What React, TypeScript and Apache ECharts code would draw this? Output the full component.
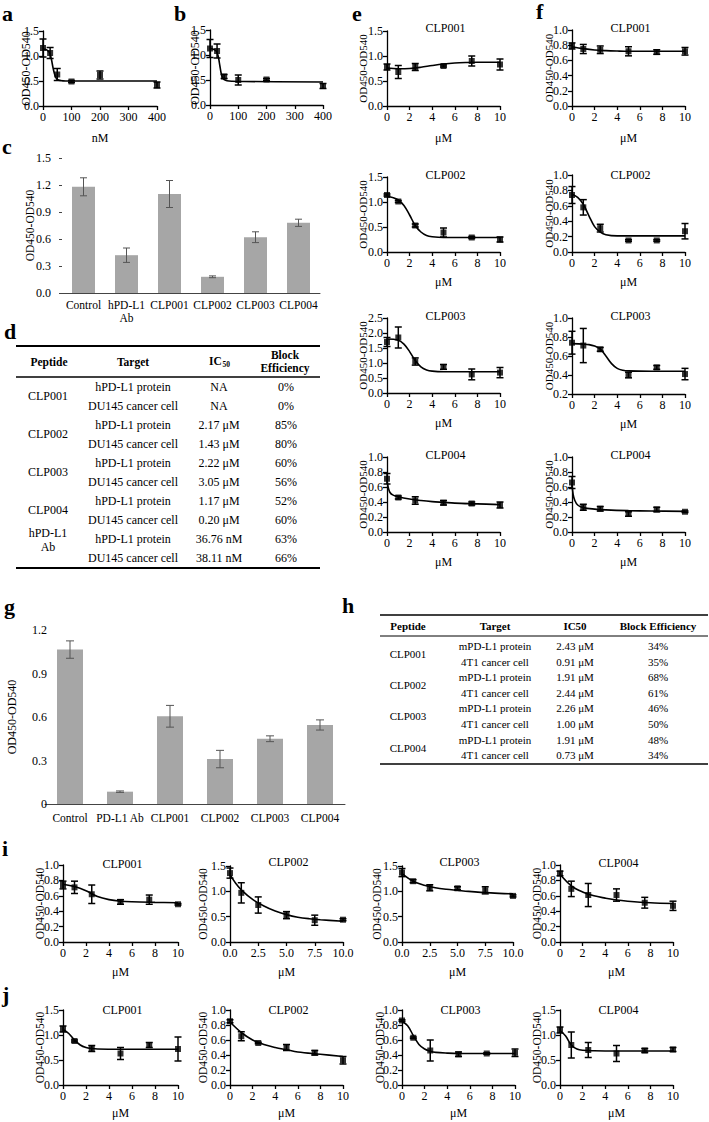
import React, { useEffect, useRef } from "react";
import * as echarts from "echarts";

const FONT = "Liberation Serif";

// ---------------- data ----------------
const doseNM = [0, 25, 50, 100, 200, 400];
const doseUM = [0, 1, 2.5, 5, 7.5, 10];

const aMean = [1.16, 1.06, 0.63, 0.49, 0.62, 0.42];
const aErr = [0.18, 0.11, 0.12, 0.02, 0.08, 0.06];
const aCurve = [[0, 1.14], [10, 1.13], [20, 1.09], [25, 1.04], [30, 0.92], [35, 0.77], [40, 0.65], [45, 0.57], [50, 0.53], [60, 0.51], [80, 0.5], [120, 0.5], [400, 0.5]];

const bMean = [1.13, 1.08, 0.57, 0.5, 0.51, 0.38];
const bErr = [0.18, 0.14, 0.04, 0.1, 0.02, 0.05];
const bCurve = [[0, 1.13], [10, 1.12], [20, 1.09], [25, 1.05], [30, 0.95], [35, 0.78], [40, 0.62], [45, 0.54], [50, 0.51], [60, 0.485], [80, 0.475], [120, 0.47], [400, 0.46]];

const e1Mean = [0.78, 0.68, 0.78, 0.8, 0.9, 0.83];
const e1Err = [0.06, 0.13, 0.07, 0.02, 0.1, 0.11];
const e1Curve = [[0, 0.76], [1, 0.745], [2, 0.75], [3, 0.775], [4, 0.81], [5, 0.84], [6, 0.86], [7, 0.87], [8, 0.875], [10, 0.875]];

const e2Mean = [1.14, 1.01, 0.53, 0.39, 0.29, 0.25];
const e2Err = [0.02, 0.02, 0.03, 0.09, 0.02, 0.05];
const e2Curve = [[0, 1.11], [0.5, 1.09], [1, 1.04], [1.5, 0.93], [2, 0.74], [2.5, 0.53], [3, 0.4], [3.5, 0.33], [4, 0.305], [5, 0.29], [7, 0.29], [10, 0.29]];

const e3Mean = [1.7, 1.85, 1.05, 0.87, 0.62, 0.68];
const e3Err = [0.15, 0.35, 0.12, 0.08, 0.18, 0.17];
const e3Curve = [[0, 1.8], [1, 1.76], [1.5, 1.63], [2, 1.38], [2.5, 1.08], [3, 0.87], [3.5, 0.77], [4, 0.73], [5, 0.71], [7, 0.71], [10, 0.71]];

const e4Mean = [0.71, 0.46, 0.42, 0.39, 0.38, 0.36];
const e4Err = [0.07, 0.02, 0.05, 0.03, 0.02, 0.04];
const e4Curve = [[0, 0.69], [0.1, 0.6], [0.25, 0.53], [0.5, 0.495], [1, 0.47], [2, 0.44], [3, 0.42], [4, 0.405], [5, 0.395], [6, 0.385], [8, 0.375], [10, 0.365]];

const f1Mean = [0.79, 0.75, 0.74, 0.72, 0.71, 0.72];
const f1Err = [0.04, 0.06, 0.05, 0.06, 0.03, 0.05];
const f1Curve = [[0, 0.78], [1, 0.755], [2, 0.737], [3, 0.728], [4, 0.723], [5, 0.72], [7, 0.72], [10, 0.72]];

const f2Mean = [0.74, 0.58, 0.31, 0.15, 0.15, 0.27];
const f2Err = [0.11, 0.1, 0.05, 0.01, 0.01, 0.1];
const f2Curve = [[0, 0.75], [0.5, 0.71], [1, 0.62], [1.5, 0.47], [2, 0.33], [2.5, 0.26], [3, 0.225], [4, 0.21], [6, 0.21], [10, 0.21]];

const f3Mean = [0.74, 0.71, 0.67, 0.4, 0.48, 0.41];
const f3Err = [0.12, 0.18, 0.02, 0.03, 0.02, 0.06];
const f3Curve = [[0, 0.73], [1, 0.725], [1.5, 0.72], [2, 0.705], [2.5, 0.675], [3, 0.6], [3.5, 0.52], [4, 0.47], [4.5, 0.45], [5, 0.443], [7, 0.44], [10, 0.44]];

const f4Mean = [0.66, 0.33, 0.31, 0.24, 0.3, 0.27];
const f4Err = [0.08, 0.04, 0.03, 0.03, 0.03, 0.01];
const f4Curve = [[0, 0.64], [0.1, 0.5], [0.25, 0.42], [0.5, 0.36], [1, 0.325], [2, 0.305], [3, 0.295], [5, 0.285], [7, 0.28], [10, 0.275]];

const i1Mean = [0.74, 0.71, 0.62, 0.52, 0.55, 0.49];
const i1Err = [0.05, 0.08, 0.12, 0.03, 0.06, 0.01];
const i1Curve = [[0, 0.75], [1, 0.72], [2, 0.665], [3, 0.59], [4, 0.55], [5, 0.53], [6, 0.522], [8, 0.515], [10, 0.51]];

const i2Mean = [1.36, 0.97, 0.73, 0.53, 0.43, 0.44];
const i2Err = [0.1, 0.2, 0.16, 0.07, 0.1, 0.02];
const i2Curve = [[0, 1.33], [0.5, 1.16], [1, 1.03], [2, 0.84], [3, 0.71], [4, 0.61], [5, 0.54], [6, 0.49], [7, 0.46], [8, 0.44], [10, 0.41]];

const i3Mean = [1.37, 1.2, 1.07, 1.06, 1.02, 0.91];
const i3Err = [0.08, 0.03, 0.06, 0.03, 0.07, 0.02];
const i3Curve = [[0, 1.35], [1, 1.2], [2, 1.12], [3, 1.07], [4, 1.04], [5, 1.02], [6, 1.0], [8, 0.97], [10, 0.95]];

const i4Mean = [0.89, 0.69, 0.61, 0.61, 0.51, 0.47];
const i4Err = [0.03, 0.1, 0.15, 0.08, 0.07, 0.06];
const i4Curve = [[0, 0.88], [1, 0.73], [2, 0.65], [3, 0.6], [4, 0.57], [5, 0.545], [6, 0.53], [8, 0.51], [10, 0.5]];

const j1Mean = [1.12, 0.88, 0.73, 0.63, 0.8, 0.72];
const j1Err = [0.06, 0.02, 0.06, 0.12, 0.05, 0.24];
const j1Curve = [[0, 1.11], [0.5, 1.03], [1, 0.9], [1.5, 0.8], [2, 0.75], [2.5, 0.73], [3, 0.72], [5, 0.715], [10, 0.715]];

const j2Mean = [0.85, 0.65, 0.56, 0.5, 0.43, 0.33];
const j2Err = [0.02, 0.06, 0.01, 0.04, 0.03, 0.05];
const j2Curve = [[0, 0.84], [1, 0.7], [2, 0.6], [3, 0.54], [4, 0.5], [5, 0.47], [6, 0.44], [8, 0.41], [10, 0.38]];

const j3Mean = [0.86, 0.63, 0.46, 0.41, 0.42, 0.43];
const j3Err = [0.01, 0.01, 0.14, 0.03, 0.01, 0.05];
const j3Curve = [[0, 0.85], [0.5, 0.79], [1, 0.66], [1.5, 0.54], [2, 0.48], [2.5, 0.45], [3, 0.435], [4, 0.425], [5, 0.42], [10, 0.42]];

const j4Mean = [1.1, 0.8, 0.7, 0.63, 0.69, 0.71];
const j4Err = [0.06, 0.26, 0.15, 0.16, 0.04, 0.04];
const j4Curve = [[0, 1.09], [0.5, 0.98], [1, 0.8], [1.5, 0.72], [2, 0.695], [3, 0.685], [5, 0.68], [10, 0.68]];

const cCats = ["Control", "hPD-L1\nAb", "CLP001", "CLP002", "CLP003", "CLP004"];
const cMean = [1.18, 0.42, 1.1, 0.18, 0.62, 0.78];
const cErr = [0.1, 0.08, 0.15, 0.01, 0.06, 0.04];

const gCats = ["Control", "PD-L1 Ab", "CLP001", "CLP002", "CLP003", "CLP004"];
const gMean = [1.065, 0.085, 0.605, 0.31, 0.45, 0.545];
const gErr = [0.06, 0.005, 0.075, 0.06, 0.02, 0.035];

const dHeaders = ["Peptide", "Target", "IC", "Block", "Efficiency"];
const dPeptide = ["CLP001", "CLP002", "CLP003", "CLP004", "hPD-L1", "Ab"];
const dTarget = ["hPD-L1 protein", "DU145 cancer cell"];
const dIC50 = ["NA", "NA", "2.17 μM", "1.43 μM", "2.22 μM", "3.05 μM", "1.17 μM", "0.20 μM", "36.76 nM", "38.11 nM"];
const dBlock = ["0%", "0%", "85%", "80%", "60%", "56%", "52%", "60%", "63%", "66%"];

const hHeaders = ["Peptide", "Target", "IC50", "Block Efficiency"];
const hPeptide = ["CLP001", "CLP002", "CLP003", "CLP004"];
const hTarget = ["mPD-L1 protein", "4T1 cancer cell"];
const hIC50 = ["2.43 μM", "0.91 μM", "1.91 μM", "2.44 μM", "2.26 μM", "1.00 μM", "1.91 μM", "0.73 μM"];
const hBlock = ["34%", "35%", "68%", "61%", "46%", "50%", "48%", "34%"];

const yName = "OD450-OD540";
const unitUM = "μM";
const unitNM = "nM";

// ---------------- layout ----------------
type Dose = {
  x: number[]; mean: number[]; err: number[]; curve: number[][];
  grid: number[]; y: number[]; xr: number[]; xd: number;
  title: string; ty: number; gap: number; ns: number; xname: string; xgap: number;
};

const dosePanels: Dose[] = [
  { x: doseNM, mean: aMean, err: aErr, curve: aCurve, grid: [43, 31, 114, 75], y: [0, 1.5, 0.5], xr: [0, 400, 100], xd: 0, title: "", ty: 0, gap: 11, ns: 12, xname: unitNM, xgap: 26 },
  { x: doseNM, mean: bMean, err: bErr, curve: bCurve, grid: [210, 30, 113, 75], y: [0, 1.5, 0.5], xr: [0, 400, 100], xd: 0, title: "", ty: 0, gap: 9, ns: 12, xname: "", xgap: 26 },
  { x: doseUM, mean: e1Mean, err: e1Err, curve: e1Curve, grid: [387, 31, 113, 75], y: [0, 1.5, 0.5], xr: [0, 10, 2], xd: 0, title: "CLP001", ty: 28, gap: 19, ns: 11, xname: unitUM, xgap: 26 },
  { x: doseUM, mean: e2Mean, err: e2Err, curve: e2Curve, grid: [387, 177, 113, 75], y: [0, 1.5, 0.5], xr: [0, 10, 2], xd: 0, title: "CLP002", ty: 175, gap: 19, ns: 11, xname: unitUM, xgap: 24 },
  { x: doseUM, mean: e3Mean, err: e3Err, curve: e3Curve, grid: [387, 318, 113, 75], y: [0, 2.5, 0.5], xr: [0, 10, 2], xd: 0, title: "CLP003", ty: 316, gap: 19, ns: 11, xname: unitUM, xgap: 24 },
  { x: doseUM, mean: e4Mean, err: e4Err, curve: e4Curve, grid: [387, 457, 113, 75], y: [0, 1.0, 0.2], xr: [0, 10, 2], xd: 0, title: "CLP004", ty: 455, gap: 19, ns: 11, xname: unitUM, xgap: 24 },
  { x: doseUM, mean: f1Mean, err: f1Err, curve: f1Curve, grid: [572, 30, 113, 76], y: [0, 1.0, 0.2], xr: [0, 10, 2], xd: 0, title: "CLP001", ty: 28, gap: 18, ns: 11, xname: unitUM, xgap: 26 },
  { x: doseUM, mean: f2Mean, err: f2Err, curve: f2Curve, grid: [572, 175, 113, 77], y: [0, 1.0, 0.2], xr: [0, 10, 2], xd: 0, title: "CLP002", ty: 175, gap: 18, ns: 11, xname: unitUM, xgap: 24 },
  { x: doseUM, mean: f3Mean, err: f3Err, curve: f3Curve, grid: [572, 318, 113, 76], y: [0.2, 1.0, 0.2], xr: [0, 10, 2], xd: 0, title: "CLP003", ty: 316, gap: 18, ns: 11, xname: unitUM, xgap: 24 },
  { x: doseUM, mean: f4Mean, err: f4Err, curve: f4Curve, grid: [572, 457, 113, 75], y: [0, 1.0, 0.2], xr: [0, 10, 2], xd: 0, title: "CLP004", ty: 455, gap: 18, ns: 11, xname: unitUM, xgap: 24 },
  { x: doseUM, mean: i1Mean, err: i1Err, curve: i1Curve, grid: [63, 865, 115, 77], y: [0, 1.0, 0.2], xr: [0, 10, 2], xd: 0, title: "CLP001", ty: 864, gap: 17, ns: 11.5, xname: unitUM, xgap: 24 },
  { x: doseUM, mean: i2Mean, err: i2Err, curve: i2Curve, grid: [230, 866, 113, 76], y: [0, 1.5, 0.5], xr: [0, 10, 2.5], xd: 1, title: "CLP002", ty: 862, gap: 21, ns: 11.5, xname: unitUM, xgap: 24 },
  { x: doseUM, mean: i3Mean, err: i3Err, curve: i3Curve, grid: [402, 866, 111, 76], y: [0, 1.5, 0.5], xr: [0, 10, 2.5], xd: 1, title: "CLP003", ty: 862, gap: 19, ns: 11.5, xname: unitUM, xgap: 24 },
  { x: doseUM, mean: i4Mean, err: i4Err, curve: i4Curve, grid: [560, 865, 113, 77], y: [0, 1.0, 0.2], xr: [0, 10, 2], xd: 0, title: "CLP004", ty: 863, gap: 17, ns: 11.5, xname: unitUM, xgap: 24 },
  { x: doseUM, mean: j1Mean, err: j1Err, curve: j1Curve, grid: [63, 1010, 115, 75], y: [0, 1.5, 0.5], xr: [0, 10, 2], xd: 0, title: "CLP001", ty: 1010, gap: 17, ns: 11.5, xname: unitUM, xgap: 22 },
  { x: doseUM, mean: j2Mean, err: j2Err, curve: j2Curve, grid: [230, 1010, 113, 75], y: [0, 1.0, 0.2], xr: [0, 10, 2], xd: 0, title: "CLP002", ty: 1010, gap: 21, ns: 11.5, xname: unitUM, xgap: 22 },
  { x: doseUM, mean: j3Mean, err: j3Err, curve: j3Curve, grid: [402, 1010, 113, 75], y: [0, 1.0, 0.2], xr: [0, 10, 2], xd: 0, title: "CLP003", ty: 1010, gap: 16, ns: 11.5, xname: unitUM, xgap: 22 },
  { x: doseUM, mean: j4Mean, err: j4Err, curve: j4Curve, grid: [560, 1010, 113, 75], y: [0, 1.5, 0.5], xr: [0, 10, 2], xd: 0, title: "CLP004", ty: 1010, gap: 17, ns: 11.5, xname: unitUM, xgap: 22 },
];

function errSeries(idx: number, data: number[][], color: string, lw: number, cap: number) {
  return {
    type: "custom",
    xAxisIndex: idx,
    yAxisIndex: idx,
    data,
    encode: { x: 0, y: 1 },
    clip: false,
    z: 5,
    silent: true,
    renderItem: (_p: any, api: any) => {
      const x = api.value(0);
      const m = api.value(1);
      const e = api.value(2);
      const t = api.coord([x, m + e]);
      const b = api.coord([x, m - e]);
      const st = { stroke: color, lineWidth: lw };
      return {
        type: "group",
        children: [
          { type: "line", shape: { x1: t[0], y1: t[1], x2: b[0], y2: b[1] }, style: st },
          { type: "line", shape: { x1: t[0] - cap, y1: t[1], x2: t[0] + cap, y2: t[1] }, style: st },
          { type: "line", shape: { x1: b[0] - cap, y1: b[1], x2: b[0] + cap, y2: b[1] }, style: st },
        ],
      };
    },
  };
}

function txt(text: string, x: number, y: number, size: number, opt: any = {}) {
  return {
    type: "text",
    x,
    y,
    silent: true,
    style: {
      text,
      fill: "#000",
      fontSize: size,
      fontFamily: FONT,
      fontWeight: opt.bold ? "bold" : "normal",
      align: opt.align || "center",
      verticalAlign: opt.va || "middle",
    },
  };
}

function hline(x1: number, x2: number, y: number, w: number) {
  return { type: "line", silent: true, shape: { x1, y1: y, x2, y2: y }, style: { stroke: "#000", lineWidth: w } };
}

function buildOption() {
  const grids: any[] = [];
  const xAxes: any[] = [];
  const yAxes: any[] = [];
  const series: any[] = [];
  const graphics: any[] = [];
  const lab = { color: "#000", fontFamily: FONT, fontSize: 12 };

  dosePanels.forEach((p, i) => {
    const [l, t, w, h] = p.grid;
    grids.push({ left: l, top: t, width: w, height: h, outerBoundsMode: "none", containLabel: false });
    xAxes.push({
      gridIndex: i, type: "value", min: p.xr[0], max: p.xr[1], interval: p.xr[2],
      axisLine: { show: true, onZero: false, lineStyle: { color: "#000", width: 1.3 } },
      axisTick: { show: true, length: 4, lineStyle: { color: "#000", width: 1.3 } },
      axisLabel: { ...lab, margin: 5, formatter: (v: number) => v.toFixed(p.xd) },
      splitLine: { show: false },
      name: p.xname, nameLocation: "middle", nameGap: p.xgap,
      nameTextStyle: { ...lab, fontSize: 12 },
    });
    yAxes.push({
      gridIndex: i, type: "value", min: p.y[0], max: p.y[1], interval: p.y[2],
      axisLine: { show: true, onZero: false, lineStyle: { color: "#000", width: 1.3 } },
      axisTick: { show: true, length: 4, lineStyle: { color: "#000", width: 1.3 } },
      axisLabel: { ...lab, margin: 4, formatter: (v: number) => v.toFixed(1) },
      splitLine: { show: false },
      name: yName, nameLocation: "middle", nameGap: p.gap, nameMoveOverlap: false,
      nameTextStyle: { ...lab, fontSize: p.ns },
    });
    series.push({
      type: "line", xAxisIndex: i, yAxisIndex: i, data: p.curve, smooth: 0.35,
      showSymbol: false, symbol: "none", silent: true, z: 2,
      lineStyle: { color: "#000", width: 1.6 },
    });
    series.push(errSeries(i, p.x.map((v, k) => [v, p.mean[k], p.err[k]]), "#000", 1.5, 3.5));
    series.push({
      type: "scatter", xAxisIndex: i, yAxisIndex: i, symbol: "rect", symbolSize: 6, z: 6, silent: true,
      itemStyle: { color: "#000" }, data: p.x.map((v, k) => [v, p.mean[k]]),
    });
    if (p.title) graphics.push(txt(p.title, l + w / 2 + 2, p.ty, 12));
  });

  // ---- bar panel c ----
  const ci = dosePanels.length;
  grids.push({ left: 62, top: 158, width: 258, height: 135, outerBoundsMode: "none", containLabel: false });
  xAxes.push({
    gridIndex: ci, type: "category", data: cCats,
    axisLine: { show: true, lineStyle: { color: "#444", width: 1 } },
    axisTick: { show: false },
    axisLabel: { ...lab, fontSize: 11.5, margin: 5, interval: 0, lineHeight: 13 },
  });
  yAxes.push({
    gridIndex: ci, type: "value", min: 0, max: 1.5, interval: 0.3,
    axisLine: { show: false },
    axisTick: { show: true, length: 3, lineStyle: { color: "#444" } },
    axisLabel: { ...lab, margin: 11, formatter: (v: number) => v.toFixed(1) },
    splitLine: { show: false },
    name: yName, nameLocation: "middle", nameGap: 26, nameMoveOverlap: false,
    nameTextStyle: { ...lab, fontSize: 11.5 },
  });
  series.push({
    type: "bar", xAxisIndex: ci, yAxisIndex: ci, data: cMean, barWidth: 23,
    itemStyle: { color: "#a6a6a6" }, silent: true, z: 2,
  });
  series.push(errSeries(ci, cMean.map((v, k) => [k, v, cErr[k]]), "#555", 1, 3.5));

  // ---- bar panel g ----
  const gi = ci + 1;
  grids.push({ left: 45, top: 630, width: 300, height: 174, outerBoundsMode: "none", containLabel: false });
  xAxes.push({
    gridIndex: gi, type: "category", data: gCats,
    axisLine: { show: true, lineStyle: { color: "#444", width: 1 } },
    axisTick: { show: false },
    axisLabel: { ...lab, fontSize: 11.5, margin: 8, interval: 0 },
  });
  yAxes.push({
    gridIndex: gi, type: "value", min: 0, max: 1.2, interval: 0.3,
    axisLine: { show: false },
    axisTick: { show: false },
    axisLabel: { ...lab, margin: -2, formatter: (v: number) => (v === 0 ? "0" : v.toFixed(1)) },
    splitLine: { show: false },
    name: yName, nameLocation: "middle", nameGap: 27, nameMoveOverlap: false,
    nameTextStyle: { ...lab, fontSize: 12 },
  });
  series.push({
    type: "bar", xAxisIndex: gi, yAxisIndex: gi, data: gMean, barWidth: 26,
    itemStyle: { color: "#a6a6a6" }, silent: true, z: 2,
  });
  series.push(errSeries(gi, gMean.map((v, k) => [k, v, gErr[k]]), "#555", 1, 4));

  // ---- panel letters ----
  const letters: [string, number, number][] = [
    ["a", 2, 13], ["b", 174, 13], ["e", 352, 13], ["f", 536, 11],
    ["c", 2, 146], ["d", 4, 331], ["g", 4, 606], ["h", 342, 605],
    ["i", 2, 848], ["j", 2, 994],
  ];
  letters.forEach(([s, x, y]) => graphics.push(txt(s, x, y, 22, { bold: true, align: "left" })));

  // ---- table d ----
  graphics.push(hline(16, 320, 346, 2));
  graphics.push(hline(16, 320, 377, 1.5));
  graphics.push(hline(16, 320, 568, 2));
  graphics.push(txt(dHeaders[0], 49, 362, 11.5, { bold: true }));
  graphics.push(txt(dHeaders[1], 133, 362, 11.5, { bold: true }));
  graphics.push(txt(dHeaders[2], 209, 361, 11.5, { bold: true, align: "left" }));
  graphics.push(txt("50", 222.5, 364, 7.5, { bold: true, align: "left" }));
  graphics.push(txt(dHeaders[3], 285, 355, 11.5, { bold: true }));
  graphics.push(txt(dHeaders[4], 285, 368, 11.5, { bold: true }));
  dIC50.forEach((v, k) => {
    const y = 387 + 19 * k;
    graphics.push(txt(dTarget[k % 2], 133, y, 12));
    graphics.push(txt(v, 219, y, 12));
    graphics.push(txt(dBlock[k], 286, y, 12));
  });
  for (let k = 0; k < 4; k++) graphics.push(txt(dPeptide[k], 48, 396 + 38 * k, 12));
  graphics.push(txt(dPeptide[4], 48, 533, 12));
  graphics.push(txt(dPeptide[5], 48, 547, 12));

  // ---- table h ----
  graphics.push(hline(380, 708, 615, 1.5));
  graphics.push(hline(380, 708, 636, 1));
  graphics.push(hline(380, 708, 764, 1.5));
  const hx = [408, 495, 575, 658];
  hHeaders.forEach((s, k) => graphics.push(txt(s, hx[k], 626, 11, { bold: true })));
  hIC50.forEach((v, k) => {
    const y = 646 + 15.6 * k;
    graphics.push(txt(hTarget[k % 2], hx[1], y, 11));
    graphics.push(txt(v, hx[2], y, 11));
    graphics.push(txt(hBlock[k], hx[3], y, 11));
  });
  hPeptide.forEach((s, k) => graphics.push(txt(s, hx[0], 654 + 31.2 * k, 11)));

  return {
    animation: false,
    backgroundColor: "#fff",
    textStyle: { fontFamily: FONT },
    grid: grids,
    xAxis: xAxes,
    yAxis: yAxes,
    series,
    graphic: graphics,
  };
}

export default function App() {
  const ref = useRef<HTMLDivElement>(null);
  useEffect(() => {
    if (!ref.current) return;
    const chart = echarts.init(ref.current, undefined, { renderer: "svg" });
    chart.setOption(buildOption() as any);
    return () => chart.dispose();
  }, []);
  return (
    <div
      ref={ref}
      style={{ position: "absolute", left: 0, top: 0, width: 709, height: 1122, background: "#fff" }}
    />
  );
}
